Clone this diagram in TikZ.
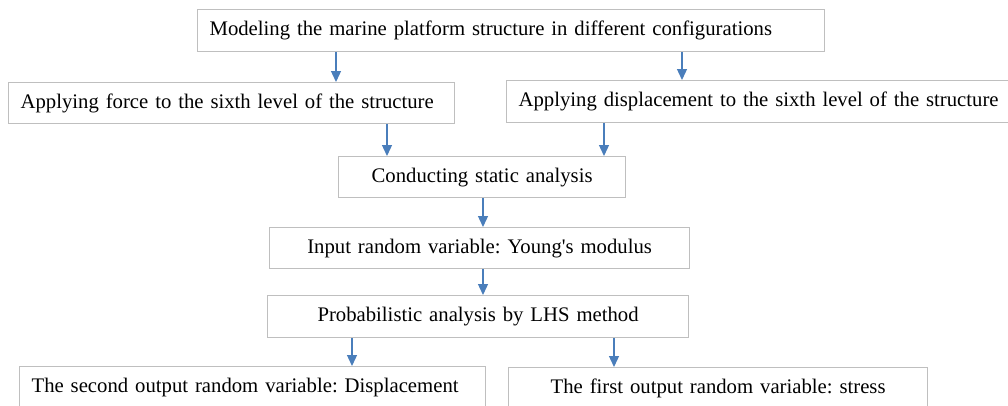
\documentclass[tikz,border=0pt]{standalone}
\usepackage{fontspec}
\setmainfont{Liberation Serif}
\usetikzlibrary{arrows.meta}
\definecolor{boxline}{HTML}{BFBFBF}
\definecolor{flowblue}{HTML}{4A7EBB}
\frenchspacing
\tikzset{
  stage/.style={draw=boxline, line width=1.2bp, rectangle, inner xsep=12bp, inner ysep=0bp,
    font=\fontsize{20.8}{24}\selectfont, text=black, anchor=north west},
  flow/.style={draw=flowblue, line width=1.3bp, -{Triangle[length=11bp,width=10bp]}, fill=flowblue}
}
\begin{document}
\begin{tikzpicture}[x=1bp,y=-1bp]
\useasboundingbox (0,0) rectangle (1008,405);
\clip (0,0) rectangle (1008,405);
\fill[white] (0,0) rectangle (1008,405);

% process stages
\node[stage, text width=603bp, minimum height=42bp, align=left] (model) at (197,9)
  {Modeling the marine platform structure in different configurations};
\node[stage, text width=422bp, minimum height=41bp, align=left] (force) at (8,82)
  {Applying force to the sixth level of the structure};
\node[stage, text width=500bp, minimum height=42bp, align=left] (disp) at (506,80)
  {Applying displacement to the sixth level of the structure};
\node[stage, text width=263bp, minimum height=41bp, align=center] (static) at (338,156)
  {Conducting static analysis};
\node[stage, text width=396bp, minimum height=41bp, align=center] (young) at (269,227)
  {Input random variable: Young\textquotesingle s modulus};
\node[stage, text width=397bp, minimum height=42bp, align=center] (lhs) at (267,295)
  {Probabilistic analysis by LHS method};
\node[stage, text width=442bp, minimum height=42bp, align=left] (outdisp) at (19,366)
  {The second output random variable: Displacement};
\node[stage, text width=395bp, minimum height=42bp, align=center] (outstress) at (508,367)
  {The first output random variable: stress};

% arrow columns
\coordinate (c1) at (336,0);
\coordinate (c2) at (682,0);
\coordinate (c3) at (387,0);
\coordinate (c4) at (604,0);
\coordinate (c5) at (483,0);
\coordinate (c7) at (352,0);
\coordinate (c8) at (614,0);

% connectors
\draw[flow] (c1 |- model.south) -- (c1 |- force.north);
\draw[flow] (c2 |- model.south) -- (c2 |- disp.north);
\draw[flow] (c3 |- force.south) -- (c3 |- static.north);
\draw[flow] (c4 |- disp.south) -- (c4 |- static.north);
\draw[flow] (c5 |- static.south) -- (c5 |- young.north);
\draw[flow] (c5 |- young.south) -- (c5 |- lhs.north);
\draw[flow] (c7 |- lhs.south) -- (c7 |- outdisp.north);
\draw[flow] (c8 |- lhs.south) -- (c8 |- outstress.north);
\end{tikzpicture}
\end{document}
